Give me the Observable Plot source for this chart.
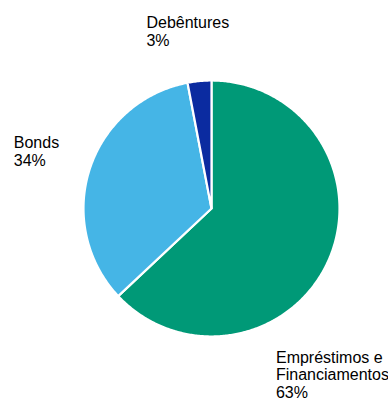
<!DOCTYPE html>
<html>
<head>
<meta charset="utf-8">
<script src="https://cdn.jsdelivr.net/npm/d3@7"></script>
<script src="https://cdn.jsdelivr.net/npm/@observablehq/plot@0.6"></script>
<style>
  html, body { margin: 0; padding: 0; background: #fff; }
  #chart svg { display: block; overflow: visible; }
</style>
</head>
<body>
<div id="chart"></div>
<script>
// Data
const categories = ["Empréstimos e Financiamentos", "Bonds", "Debêntures"];
const labelTexts = ["Empréstimos e\nFinanciamentos", "Bonds", "Debêntures"];
const shares = [63, 34, 3];
const colors = ["#009977", "#45b5e6", "#0b2ba0"];

// Geometry (layout, not data)
const W = 388, H = 401, cx = 211, cy = 208, R = 128;

const total = d3.sum(shares);
const pie = d3.pie().sort(null).value(d => d.value);
const arcs = pie(categories.map((name, i) => ({name, value: shares[i], label: labelTexts[i]})));

// Polygon points for each slice, in unit-circle data space
const pts = [];
for (const a of arcs) {
  const name = a.data.name;
  pts.push({name, x: 0, y: 0});
  const n = Math.max(4, Math.ceil((a.endAngle - a.startAngle) / 0.01));
  for (let k = 0; k <= n; k++) {
    const t = a.startAngle + (a.endAngle - a.startAngle) * k / n;
    pts.push({name, x: Math.sin(t), y: Math.cos(t)});
  }
  pts.push({name, x: 0, y: 0});
}

// label anchor = slice edge at its mid-angle
const labels = arcs.map(a => {
  const m = (a.startAngle + a.endAngle) / 2;
  return {
    name: a.data.name,
    x: Math.sin(m), y: Math.cos(m),
    text: a.data.label + "\n" + Math.round(a.data.value / total * 100) + "%"
  };
});
const offsets = {
  "Empréstimos e Financiamentos": [-53, 91],
  "Bonds": [-76, -33],
  "Debêntures": [-53, -65]
};

const textMarks = labels.map(l => Plot.text([l], {
  x: "x", y: "y", text: "text",
  textAnchor: "start", lineAnchor: "top",
  fontSize: 16, lineHeight: 1.09,
  fill: "#000",
  dx: offsets[l.name][0], dy: offsets[l.name][1]
}));

const chart = Plot.plot({
  width: W, height: H,
  margin: 0,
  style: {fontFamily: "'Liberation Sans', Arial, sans-serif", background: "#fff"},
  x: {domain: [-1, 1], range: [cx - R, cx + R], axis: null},
  y: {domain: [-1, 1], range: [cy + R, cy - R], axis: null},
  color: {type: "ordinal", domain: categories, range: colors},
  marks: [
    Plot.line(pts, {x: "x", y: "y", z: "name", fill: "name", stroke: "#fff", strokeWidth: 2.2, curve: "linear"}),
    ...textMarks
  ]
});
document.getElementById("chart").appendChild(chart);
</script>
</body>
</html>
